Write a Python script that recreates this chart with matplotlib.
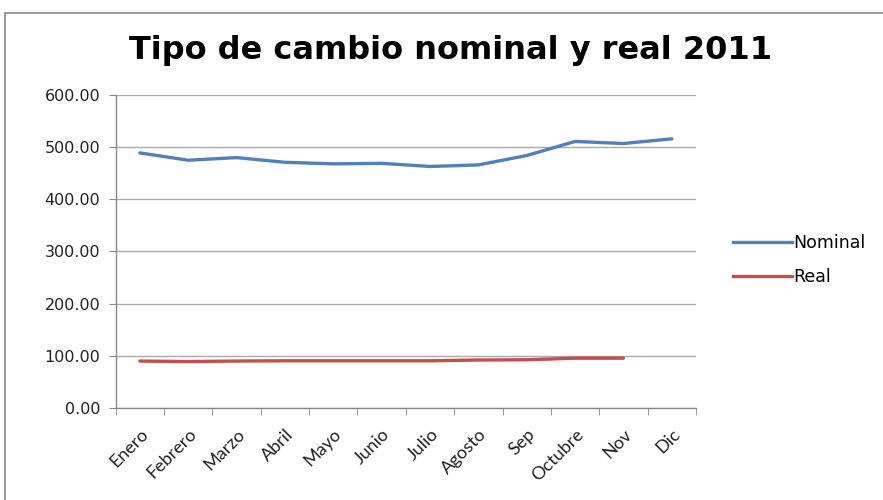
import matplotlib
matplotlib.use("Agg")
import matplotlib.pyplot as plt
from matplotlib.patches import Rectangle
from matplotlib.lines import Line2D

months = ["Enero", "Febrero", "Marzo", "Abril", "Mayo", "Junio", "Julio",
          "Agosto", "Sep", "Octubre", "Nov", "Dic"]
nominal = [489, 475, 480, 471, 468, 469, 463, 466, 484, 511, 507, 516]
real = [90, 89, 90, 90.5, 90.5, 90.5, 90.5, 92, 92.5, 95.5, 95.5]
yticks = [0, 100, 200, 300, 400, 500, 600]

plt.rcParams['font.family'] = ['Lato', 'DejaVu Sans']

fig = plt.figure(figsize=(8.83, 5.0), dpi=100)
fig.patches.append(Rectangle((5/883, -0.1), 1.0, 1 - 13/500 + 0.1, transform=fig.transFigure,
                             fill=False, edgecolor="#888888", linewidth=1.2))

ax = fig.add_axes([115.7/883, 1 - 408/500, (696 - 115.7)/883, (408 - 95)/500])
x = list(range(len(months)))
ax.plot(x, nominal, color="#4F81BD", linewidth=2.4, label="Nominal", solid_capstyle="round")
ax.plot(x[:len(real)], real, color="#C0504D", linewidth=2.4, label="Real", solid_capstyle="round")

ax.set_xlim(-0.5, len(months) - 0.5)
ax.set_ylim(0, 600)
ax.set_yticks(yticks)
ax.set_yticklabels([f"{v:.2f}" for v in yticks], fontsize=11.5, color="#222222",
                   family=["DejaVu Sans"])
ax.set_xticks(x)
ax.set_xticklabels(months, rotation=45, ha="right", rotation_mode="anchor", fontsize=13, color="#222222")
ax.set_xticks([i - 0.5 for i in range(len(months) + 1)], minor=True)
ax.tick_params(axis="x", which="major", length=0, pad=13)
ax.tick_params(axis="x", which="minor", length=5, color="#888888")
ax.tick_params(axis="y", length=5, color="#888888", pad=6)
ax.grid(axis="y", color="#AAAAAA", linewidth=1.0)
ax.set_axisbelow(True)
for s in ["top", "right"]:
    ax.spines[s].set_visible(False)
for s in ["left", "bottom"]:
    ax.spines[s].set_color("#888888")
    ax.spines[s].set_linewidth(1.0)

fig.text(451/883, 1 - 50/500, "Tipo de cambio nominal y real 2011", ha="center", va="center",
         fontsize=23, fontweight="bold", color="black", family=["DejaVu Sans"])

handles = [Line2D([], [], color="#4F81BD", linewidth=2.4), Line2D([], [], color="#C0504D", linewidth=2.4)]
fig.legend(handles, ["Nominal", "Real"], loc="upper left", bbox_to_anchor=(726/883, 1 - 227/500),
           frameon=False, prop={"family": ["DejaVu Sans"], "size": 12.5}, handlelength=3.4,
           handletextpad=0.1, labelspacing=0.95, borderaxespad=0)

fig.savefig("out.png", dpi=100)
